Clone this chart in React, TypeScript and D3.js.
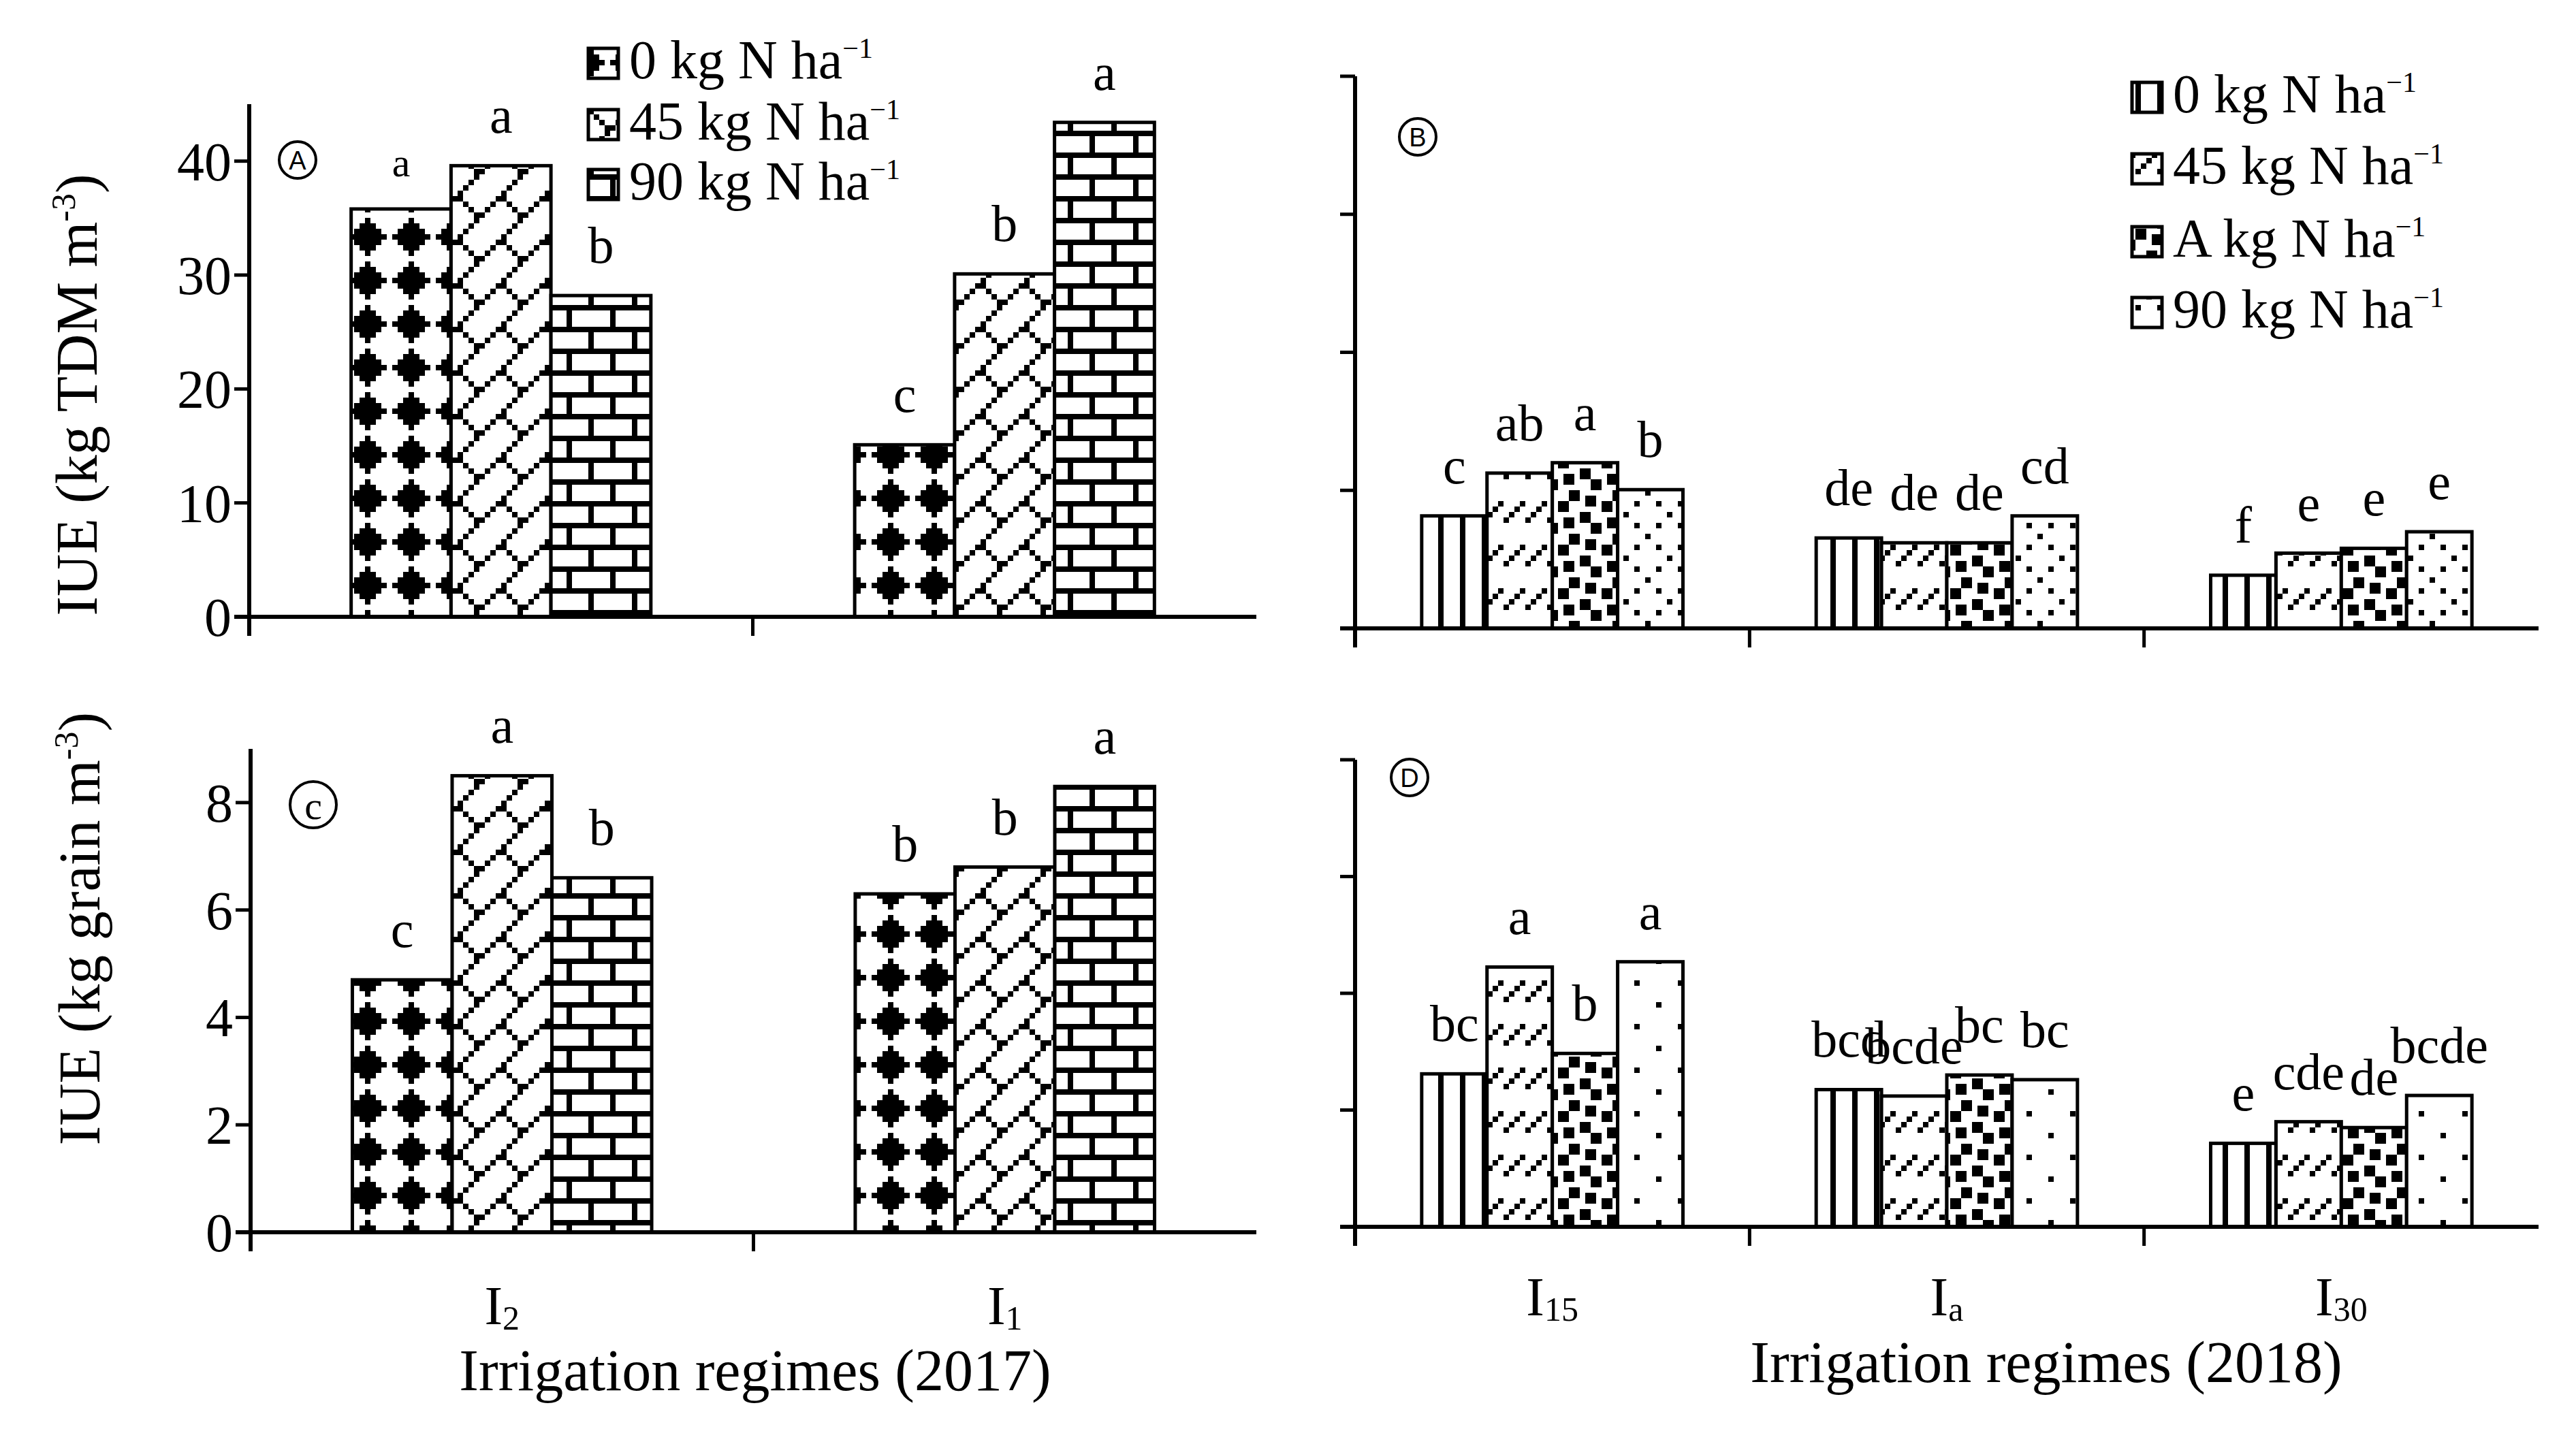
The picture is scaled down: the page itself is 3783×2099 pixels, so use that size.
import React, { useEffect } from "react";
import * as d3 from "d3";

// irrigation regimes and N rates
const cats2017 = ["I2", "I1"];
const cats2018 = ["I15", "Ia", "I30"];
const rates2017 = ["0", "45", "90"];
const rates2018 = ["0", "45", "A", "90"];

// IUE (kg TDM m-3)
const tdm2017 = [
  [35.8, 39.6, 28.2],
  [15.1, 30.1, 43.4],
];
const tdm2017Letters = [
  ["a", "a", "b"],
  ["c", "b", "a"],
];
const tdm2018 = [
  [8.15, 11.25, 12.0, 10.05],
  [6.55, 6.2, 6.2, 8.15],
  [3.85, 5.45, 5.8, 7.0],
];
const tdm2018Letters = [
  ["c", "ab", "a", "b"],
  ["de", "de", "de", "cd"],
  ["f", "e", "e", "e"],
];

// IUE (kg grain m-3)
const grain2017 = [
  [4.7, 8.5, 6.6],
  [6.3, 6.8, 8.3],
];
const grain2017Letters = [
  ["c", "a", "b"],
  ["b", "b", "a"],
];
const grain2018 = [
  [2.62, 4.45, 2.97, 4.54],
  [2.35, 2.24, 2.6, 2.52],
  [1.43, 1.8, 1.7, 2.25],
];
const grain2018Letters = [
  ["bc", "a", "b", "a"],
  ["bcd", "bcde", "bc", "bc"],
  ["e", "cde", "de", "bcde"],
];

const tdmTicks = [0, 10, 20, 30, 40];
const grainTicks = [0, 2, 4, 6, 8];

const FONT = "'Liberation Serif', 'Times New Roman', serif";
const SANS = "'Liberation Sans', Arial, sans-serif";

// 8x8 fill bitmaps, like the office hatch patterns
const PATTERNS: Record<string, string[]> = {
  diamond: [
    "...X....",
    "..XXX...",
    ".XXXXX..",
    "XXXXXXX.",
    ".XXXXX..",
    "..XXX...",
    "...X....",
    "........",
  ],
  diagBrick: [
    ".......X",
    "......X.",
    ".....X..",
    "....X...",
    "...XX...",
    "..X..X..",
    ".X....X.",
    "X......X",
  ],
  hBrick: [
    "XXXXXXXX",
    "X.......",
    "X.......",
    "X.......",
    "XXXXXXXX",
    "....X...",
    "....X...",
    "....X...",
  ],
  vLines: [
    "X...X...",
    "X...X...",
    "X...X...",
    "X...X...",
    "X...X...",
    "X...X...",
    "X...X...",
    "X...X...",
  ],
  dashDiag: [
    "........",
    "........",
    "........",
    "........",
    "...X...X",
    "..X...X.",
    ".X...X..",
    "X...X...",
  ],
  confetti: [
    "X...XX.X",
    "....XX..",
    "XX......",
    "XX.XX...",
    "...XX.XX",
    "......XX",
    "..XX....",
    "X.XX...X",
  ],
  dotsB: [
    "X...X...",
    "........",
    "......X.",
    "........",
    "X...X...",
    "........",
    "..X.....",
    "........",
  ],
  dotsD: [
    "X.......",
    "........",
    "........",
    "........",
    "....X...",
    "........",
    "........",
    "........",
  ],
};

const fills2017 = ["diamond", "diagBrick", "hBrick"];
const fillsB = ["vLines", "dashDiag", "confetti", "dotsB"];
const fillsD = ["vLines", "dashDiag", "confetti", "dotsD"];

function BitPattern({ id, rows }: { id: string; rows: string[] }) {
  const p = 8;
  return (
    <pattern id={id} patternUnits="userSpaceOnUse" width={p * 8} height={p * 8}>
      <rect width={p * 8} height={p * 8} fill="#fff" />
      {rows.flatMap((row, r) =>
        row.split("").map((ch, c) =>
          ch === "X" ? (
            <rect key={`${r}-${c}`} x={c * p} y={r * p} width={p} height={p} fill="#000" shapeRendering="crispEdges" />
          ) : null
        )
      )}
    </pattern>
  );
}

interface PanelProps {
  left: number;
  right: number;
  base: number;
  top: number;
  max: number;
  ticks: number[];
  tickLabels: boolean;
  cats: string[];
  rates: string[];
  values: number[][];
  letters: string[][];
  fills: string[];
  small?: [number, number];
}

function Panel(props: PanelProps) {
  const { left, right, base, top, max, ticks, tickLabels, cats, rates, values, letters, fills, small } = props;
  const x0 = d3.scaleBand<string>().domain(cats).range([left, right]);
  const x1 = d3.scaleBand<string>().domain(rates).range([0, x0.bandwidth()]).paddingOuter(1.02);
  const y = d3.scaleLinear().domain([0, max]).range([base, top]);
  const bw = x1.bandwidth();

  return (
    <g>
      {cats.map((c, i) =>
        rates.map((r, j) => {
          const v = values[i][j];
          const bx = (x0(c) ?? 0) + (x1(r) ?? 0);
          const isSmall = small && small[0] === i && small[1] === j;
          return (
            <g key={`${c}-${r}`}>
              <rect
                x={bx}
                y={y(v)}
                width={bw}
                height={base - y(v)}
                fill={`url(#${fills[j]})`}
                stroke="#000"
                strokeWidth={5}
              />
              <text
                x={bx + bw / 2}
                y={y(v) - 48}
                textAnchor="middle"
                fontFamily={FONT}
                fontSize={isSmall ? 60 : 76}
              >
                {letters[i][j]}
              </text>
            </g>
          );
        })
      )}

      {/* y axis */}
      <line x1={left} x2={left} y1={top} y2={base + 28} stroke="#000" strokeWidth={6} />
      {ticks.map((t) => (
        <line key={t} x1={left - 22} x2={left} y1={y(t)} y2={y(t)} stroke="#000" strokeWidth={5} />
      ))}
      {tickLabels &&
        ticks.map((t) => (
          <text
            key={`l${t}`}
            x={left - 26}
            y={y(t)}
            dy="0.35em"
            textAnchor="end"
            fontFamily={FONT}
            fontSize={80}
          >
            {t}
          </text>
        ))}

      {/* x axis */}
      <line x1={left - 22} x2={right} y1={base} y2={base} stroke="#000" strokeWidth={6} />
      {cats.map((c) => (
        <line key={c} x1={x0(c)} x2={x0(c)} y1={base} y2={base + 28} stroke="#000" strokeWidth={5} />
      ))}
    </g>
  );
}

function CatLabels({ cats, left, right, y }: { cats: string[]; left: number; right: number; y: number }) {
  const x0 = d3.scaleBand<string>().domain(cats).range([left, right]);
  return (
    <g>
      {cats.map((c) => (
        <text
          key={c}
          x={(x0(c) ?? 0) + x0.bandwidth() / 2}
          y={y}
          textAnchor="middle"
          fontFamily={FONT}
          fontSize={80}
        >
          {c.slice(0, 1)}
          <tspan fontSize={50} dy={8}>
            {c.slice(1)}
          </tspan>
        </text>
      ))}
    </g>
  );
}

function Legend({ x, ys, rates, fills }: { x: number; ys: number[]; rates: string[]; fills: string[] }) {
  return (
    <g>
      {rates.map((r, i) => (
        <g key={r}>
          <rect x={x} y={ys[i] - 44} width={44} height={44} fill={`url(#${fills[i]})`} stroke="#000" strokeWidth={5} />
          <text x={x + 60} y={ys[i]} fontFamily={FONT} fontSize={80}>
            {`${r} kg N ha`}
            <tspan fontSize={42} dy={-30}>
              −1
            </tspan>
          </text>
        </g>
      ))}
    </g>
  );
}

function Badge({ cx, cy, r, label, serif }: { cx: number; cy: number; r: number; label: string; serif?: boolean }) {
  return (
    <g>
      <circle cx={cx} cy={cy} r={r} fill="none" stroke="#000" strokeWidth={4} />
      <text
        x={cx}
        y={cy}
        dy="0.36em"
        textAnchor="middle"
        fontFamily={serif ? FONT : SANS}
        fontSize={serif ? 58 : 38}
      >
        {label}
      </text>
    </g>
  );
}

function YTitle({ x, y, unit }: { x: number; y: number; unit: string }) {
  return (
    <text
      transform={`translate(${x},${y}) rotate(-90)`}
      textAnchor="middle"
      fontFamily={FONT}
      fontSize={86}
    >
      {`IUE (${unit} m`}
      <tspan fontSize={50} dy={-32}>
        -3
      </tspan>
      <tspan dy={32}>)</tspan>
    </text>
  );
}

export default function App() {
  useEffect(() => {
    document.body.style.margin = "0";
  }, []);

  const W = 3783;
  const H = 2099;

  return (
    <svg
      width={W}
      height={H}
      viewBox={`0 0 ${W} ${H}`}
      style={{ display: "block", position: "absolute", left: 0, top: 0, background: "#fff" }}
    >
      <defs>
        {Object.entries(PATTERNS).map(([id, rows]) => (
          <BitPattern key={id} id={id} rows={rows} />
        ))}
      </defs>
      <rect width={W} height={H} fill="#fff" />

      {/* A */}
      <Panel
        left={366}
        right={1845}
        base={906}
        top={153}
        max={45}
        ticks={tdmTicks}
        tickLabels
        cats={cats2017}
        rates={rates2017}
        values={tdm2017}
        letters={tdm2017Letters}
        fills={fills2017}
        small={[0, 0]}
      />
      <Legend x={864} ys={[115, 205, 293]} rates={rates2017} fills={fills2017} />
      <Badge cx={437} cy={235} r={27} label="A" />
      <YTitle x={142} y={580} unit="kg TDM" />

      {/* B */}
      <Panel
        left={1990}
        right={3728}
        base={923}
        top={112}
        max={40}
        ticks={tdmTicks}
        tickLabels={false}
        cats={cats2018}
        rates={rates2018}
        values={tdm2018}
        letters={tdm2018Letters}
        fills={fillsB}
      />
      <Legend x={3131} ys={[165, 270, 377, 481]} rates={rates2018} fills={fillsB} />
      <Badge cx={2082} cy={201} r={27} label="B" />

      {/* C */}
      <Panel
        left={368}
        right={1845}
        base={1810}
        top={1100}
        max={9}
        ticks={grainTicks}
        tickLabels
        cats={cats2017}
        rates={rates2017}
        values={grain2017}
        letters={grain2017Letters}
        fills={fills2017}
      />
      <Badge cx={460} cy={1182} r={34} label="c" serif />
      <YTitle x={146} y={1364} unit="kg grain" />
      <CatLabels cats={cats2017} left={368} right={1845} y={1945} />
      <text x={1109} y={2042} textAnchor="middle" fontFamily={FONT} fontSize={86}>
        Irrigation regimes (2017)
      </text>

      {/* D */}
      <Panel
        left={1990}
        right={3728}
        base={1802}
        top={1116}
        max={8}
        ticks={grainTicks}
        tickLabels={false}
        cats={cats2018}
        rates={rates2018}
        values={grain2018}
        letters={grain2018Letters}
        fills={fillsD}
      />
      <Badge cx={2070} cy={1142} r={27} label="D" />
      <CatLabels cats={cats2018} left={1990} right={3728} y={1932} />
      <text x={3005} y={2030} textAnchor="middle" fontFamily={FONT} fontSize={86}>
        Irrigation regimes (2018)
      </text>
    </svg>
  );
}
